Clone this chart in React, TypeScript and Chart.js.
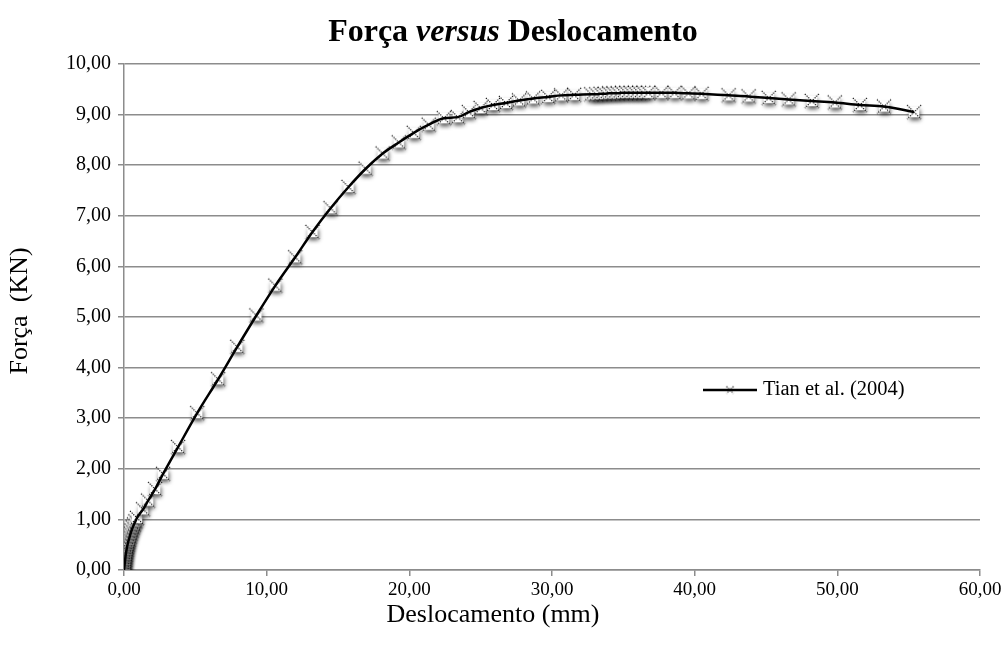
import React, { useEffect, useRef } from "react";
import { Chart, registerables } from "chart.js";

Chart.register(...registerables);

const displacement = [
  0, 0.02, 0.04, 0.06, 0.08, 0.1, 0.12, 0.15, 0.18, 0.21, 0.25, 0.29, 0.34, 0.4, 0.46, 0.53, 0.61, 0.7, 0.8, 0.91,
  1.34, 1.69, 2.18, 2.74, 3.79, 5.13, 6.6, 7.94, 9.28, 10.61, 12.0, 13.21, 14.48, 15.74, 16.94, 18.13, 19.26,
  20.31, 21.36, 22.42, 23.4, 24.17, 25.0, 25.86, 26.77, 27.69, 28.67, 29.73, 30.64, 31.55,
  32.75, 33.1, 33.4, 33.7, 34.0, 34.3, 34.6, 34.9, 35.2, 35.5, 35.8, 36.1, 36.4, 36.75,
  37.67, 38.58, 39.56, 40.48, 42.38, 43.78, 45.19, 46.59, 48.21, 49.82, 51.58, 53.27, 55.38,
];
const force = [
  0, 0.05, 0.1, 0.15, 0.2, 0.25, 0.3, 0.35, 0.4, 0.45, 0.5, 0.55, 0.6, 0.66, 0.72, 0.78, 0.84, 0.9, 0.96, 1.03,
  1.2, 1.37, 1.6, 1.9, 2.43, 3.1, 3.77, 4.41, 5.03, 5.62, 6.18, 6.68, 7.15, 7.57, 7.93, 8.23, 8.45,
  8.64, 8.8, 8.93, 8.95, 9.05, 9.13, 9.19, 9.23, 9.28, 9.32, 9.35, 9.38, 9.39,
  9.4, 9.4, 9.41, 9.41, 9.42, 9.42, 9.42, 9.43, 9.43, 9.43, 9.43, 9.43, 9.43, 9.43,
  9.43, 9.43, 9.42, 9.41, 9.38, 9.36, 9.33, 9.3, 9.27, 9.24, 9.19, 9.16, 9.05,
];

const xTicks = [0, 10, 20, 30, 40, 50, 60];
const yTicks = [0, 1, 2, 3, 4, 5, 6, 7, 8, 9, 10];
const seriesName = "Tian et al. (2004)";
const titleParts = [
  { text: "Força ", italic: false },
  { text: "versus", italic: true },
  { text: " Deslocamento", italic: false },
];
const xTitle = "Deslocamento (mm)";
const yTitle = "Força  (KN)";

const FONT = '"Liberation Serif", "Times New Roman", serif';
const fmt = (v: number) => v.toFixed(2).replace(".", ",");

function makeMarker(size: number, shadow: boolean) {
  const c = document.createElement("canvas");
  const s = size + 12;
  c.width = s;
  c.height = s;
  const ctx = c.getContext("2d")!;
  const m = s / 2;
  const h = size / 2;
  if (shadow) {
    ctx.save();
    ctx.shadowColor = "rgba(0,0,0,0.65)";
    ctx.shadowBlur = 4;
    ctx.shadowOffsetX = 1;
    ctx.shadowOffsetY = 3;
    ctx.fillStyle = "rgba(255,255,255,1)";
    ctx.fillRect(m - h * 0.75, m - h * 0.75, h * 1.5, h * 1.5);
    ctx.restore();
  }
  ctx.strokeStyle = "#000";
  ctx.lineWidth = 1.1;
  ctx.setLineDash([1.2, 1.2]);
  ctx.beginPath();
  ctx.moveTo(m - h, m - h);
  ctx.lineTo(m + h, m + h);
  ctx.moveTo(m + h, m - h);
  ctx.lineTo(m - h, m + h);
  ctx.stroke();
  return c;
}

export default function App() {
  const ref = useRef<HTMLCanvasElement>(null);

  useEffect(() => {
    document.body.style.margin = "0";
    const canvas = ref.current!;
    const data = displacement.map((x, i) => ({ x, y: force[i] }));
    const marker = makeMarker(14, true);
    const legendMarker = makeMarker(7, false);

    const textPlugin = {
      id: "texts",
      afterDraw(chart: any) {
        const ctx = chart.ctx as CanvasRenderingContext2D;
        ctx.save();
        ctx.fillStyle = "#000";
        ctx.textBaseline = "middle";
        let total = 0;
        const widths: number[] = [];
        titleParts.forEach((p) => {
          ctx.font = `${p.italic ? "italic " : ""}bold 32px ${FONT}`;
          const w = ctx.measureText(p.text).width;
          widths.push(w);
          total += w;
        });
        let x = 513 - total / 2;
        titleParts.forEach((p, i) => {
          ctx.font = `${p.italic ? "italic " : ""}bold 32px ${FONT}`;
          ctx.textAlign = "left";
          ctx.fillText(p.text, x, 33);
          x += widths[i];
        });
        ctx.font = `26px ${FONT}`;
        ctx.textAlign = "center";
        ctx.fillText(xTitle, 493, 615);
        ctx.save();
        ctx.translate(20, 311);
        ctx.rotate(-Math.PI / 2);
        ctx.fillText(yTitle, 0, 0);
        ctx.restore();
        ctx.strokeStyle = "#000";
        ctx.lineWidth = 2.5;
        ctx.beginPath();
        ctx.moveTo(703, 390);
        ctx.lineTo(757, 390);
        ctx.stroke();
        ctx.drawImage(legendMarker, 730 - legendMarker.width / 2, 390 - legendMarker.height / 2);
        ctx.font = `20.5px ${FONT}`;
        ctx.textAlign = "left";
        ctx.fillText(seriesName, 763, 390);
        ctx.restore();
      },
    };

    const chart = new Chart(canvas, {
      type: "scatter",
      data: {
        datasets: [
          {
            label: seriesName + " markers",
            data,
            showLine: false,
            pointStyle: marker as any,
            pointRadius: 7,
            order: 2,
          },
          {
            label: seriesName,
            data,
            showLine: true,
            borderColor: "#000",
            borderWidth: 2.5,
            pointRadius: 0,
            cubicInterpolationMode: "monotone",
            order: 1,
          } as any,
        ],
      },
      options: {
        animation: false,
        responsive: false,
        maintainAspectRatio: false,
        layout: { padding: { top: 64, right: 21, left: 0, bottom: 0 } },
        plugins: {
          legend: { display: false },
          title: { display: false },
          tooltip: { enabled: false },
        },
        scales: {
          x: {
            type: "linear",
            min: 0,
            max: 60,
            afterBuildTicks: (s: any) => {
              s.ticks = xTicks.map((v) => ({ value: v }));
            },
            afterFit: (s: any) => {
              s.height = 85;
              s.paddingRight = 0;
              s.paddingLeft = 0;
            },
            ticks: {
              color: "#000",
              font: { family: FONT, size: 19 },
              padding: 3,
              maxRotation: 0,
              callback: (v: any) => fmt(Number(v)),
            },
            grid: {
              drawOnChartArea: false,
              drawTicks: true,
              tickLength: 6,
              color: "#8c8c8c",
              lineWidth: 1.5,
            },
            border: { color: "#8c8c8c", width: 1.5 },
          },
          y: {
            type: "linear",
            min: 0,
            max: 10,
            afterBuildTicks: (s: any) => {
              s.ticks = yTicks.map((v) => ({ value: v }));
            },
            afterFit: (s: any) => {
              s.width = 124;
              s.paddingTop = 0;
              s.paddingBottom = 0;
            },
            ticks: {
              color: "#000",
              font: { family: FONT, size: 20 },
              padding: 7,
              callback: (v: any) => fmt(Number(v)),
            },
            grid: {
              drawTicks: true,
              tickLength: 6,
              color: "#8c8c8c",
              lineWidth: 1.5,
            },
            border: { color: "#8c8c8c", width: 1.5 },
          },
        },
      },
      plugins: [textPlugin],
    });
    return () => chart.destroy();
  }, []);

  return <canvas ref={ref} width={1001} height={655} style={{ display: "block" }} />;
}
